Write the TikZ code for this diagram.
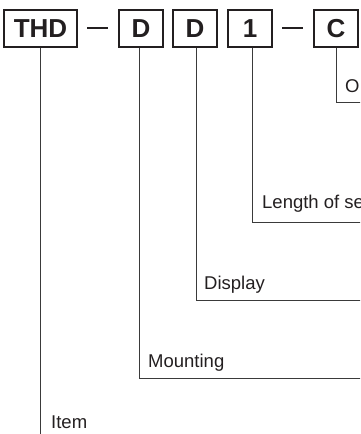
\documentclass[tikz,border=0pt]{standalone}
\usepackage{fontspec}
\setmainfont{Liberation Sans}
\definecolor{ink}{HTML}{231F20}
\definecolor{wire}{HTML}{3A3A3A}
\begin{document}
\begin{tikzpicture}[x=1pt,y=-1pt,
  codebox/.style={draw=ink,line width=1.2pt,minimum height=37pt,inner sep=0pt,
    font=\fontsize{26}{26}\selectfont\bfseries,text=ink},
  lbl/.style={anchor=base west,inner sep=0pt,font=\fontsize{18.5}{18.5}\selectfont,text=ink},
  wireline/.style={draw=wire,line width=0.9pt},
  dashline/.style={draw=ink,line width=2.3pt}]
\useasboundingbox (0,0) rectangle (360,434);
\clip (0,0) rectangle (360,434);
% code boxes
\node[codebox,minimum width=73pt] (THD) at (40.5,28.5) {THD};
\node[codebox,minimum width=44pt] (D1) at (141,28.5) {D};
\node[codebox,minimum width=44pt] (D2) at (195,28.5) {D};
\node[codebox,minimum width=44pt] (N1) at (250,28.5) {1};
\node[codebox,minimum width=44pt] (C) at (336,28.5) {C};
% dashes
\draw[dashline] (87,28) -- (108,28);
\draw[dashline] (282,28) -- (303,28);
% right-edge ends
\coordinate (eC) at (361,102);
\coordinate (eN1) at (361,222);
\coordinate (eD2) at (361,300);
\coordinate (eD1) at (361,378);
\coordinate (eTHD) at (40,435);
% connectors
\draw[wireline] (C.south) |- (eC);
\draw[wireline] ([xshift=2pt]N1.south) |- (eN1);
\draw[wireline] ([xshift=1.5pt]D2.south) |- (eD2);
\draw[wireline] ([xshift=-2pt]D1.south) |- (eD1);
\draw[wireline] (THD.south) -- (THD.south |- eTHD);
% labels
\node[lbl] (lC) at (345,92) {O};
\node[lbl] (lN1) at (262,208) {Length of se};
\node[lbl] (lD2) at (204,289) {Display};
\node[lbl] (lD1) at (148,367) {Mounting};
\node[lbl] (lTHD) at (51,428) {Item};
\end{tikzpicture}
\end{document}
